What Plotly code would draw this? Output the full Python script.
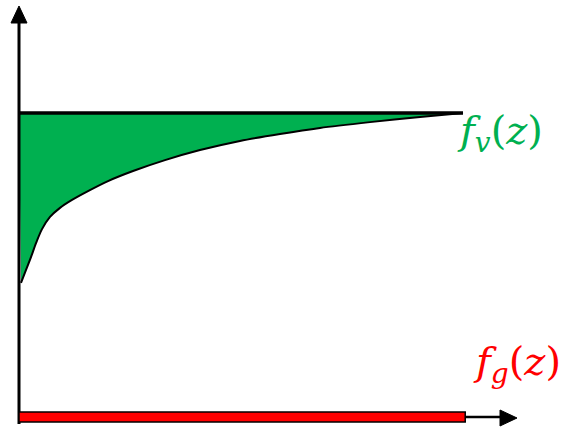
import plotly.graph_objects as go

# Height coordinate z (arbitrary units) and the profile f_v(z)
z_curve = [0.045, 0.158, 0.270, 0.383, 0.518, 0.698, 0.923, 1.194, 1.554,
           2.005, 2.568, 3.288, 4.077, 4.977, 5.878, 6.779, 7.905, 9.032, 10.0]
fv_curve = [0.441, 0.484, 0.526, 0.572, 0.618, 0.658, 0.688, 0.714, 0.743,
            0.776, 0.809, 0.845, 0.878, 0.908, 0.931, 0.951, 0.970, 0.987, 1.0]
fv_top = 1.0          # upper bound of f_v
fg_level = 0.0        # f_g(z) is flat along the axis
z_span = [0.0, 10.0]

labels = ["<i>f<sub>v</sub></i>(<i>z</i>)", "<i>f<sub>g</sub></i>(<i>z</i>)"]
label_colors = ["#00B050", "#FF0000"]

W, H = 569, 429
# pixel placement of the plotting frame
ORIGIN_X, END_X = 19, 463
ORIGIN_Y, TOP_Y = 417, 113
sx = (END_X - ORIGIN_X) / (z_span[1] - z_span[0])
sy = (ORIGIN_Y - TOP_Y) / (fv_top - fg_level)
x_range = [-ORIGIN_X / sx, (W - ORIGIN_X) / sx]
y_range = [-(H - ORIGIN_Y) / sy, ORIGIN_Y / sy]


def paper(x, y):
    return x / W, 1 - y / H


fig = go.Figure()

# green region below the upper bound, closed by the smooth curve
fig.add_trace(go.Scatter(
    x=[z_span[0], z_span[1]], y=[fv_top, fv_top], mode="lines",
    line=dict(color="black", width=3), hoverinfo="skip", showlegend=False))
fig.add_trace(go.Scatter(
    x=z_curve, y=fv_curve, mode="lines", fill="tonexty",
    fillcolor="#00B050", line=dict(color="black", width=2, shape="spline", smoothing=0.8),
    hoverinfo="skip", showlegend=False))
# redraw the bound on top of the fill
fig.add_trace(go.Scatter(
    x=[z_span[0], z_span[1]], y=[fv_top, fv_top], mode="lines",
    line=dict(color="black", width=3), hoverinfo="skip", showlegend=False))

shapes = []
# axis lines
ax0 = paper(ORIGIN_X, 424)
ax1 = paper(ORIGIN_X, 20)
shapes.append(dict(type="line", xref="paper", yref="paper",
                   x0=ax0[0], y0=ax0[1], x1=ax1[0], y1=ax1[1],
                   line=dict(color="black", width=3)))
bx0 = paper(ORIGIN_X, ORIGIN_Y)
bx1 = paper(502, ORIGIN_Y)
shapes.append(dict(type="line", xref="paper", yref="paper",
                   x0=bx0[0], y0=bx0[1], x1=bx1[0], y1=bx1[1],
                   line=dict(color="black", width=2.5)))


def tri(pts):
    p = [paper(*q) for q in pts]
    return "M {} {} L {} {} L {} {} Z".format(p[0][0], p[0][1], p[1][0], p[1][1], p[2][0], p[2][1])


shapes.append(dict(type="path", xref="paper", yref="paper",
                   path=tri([(19, 6), (11, 23), (27, 23)]),
                   fillcolor="black", line=dict(color="black", width=1)))
shapes.append(dict(type="path", xref="paper", yref="paper",
                   path=tri([(517, 418), (500, 410), (500, 426)]),
                   fillcolor="black", line=dict(color="black", width=1)))

# f_g(z) drawn as a flat red band along the axis
shapes.append(dict(type="rect", xref="x", yref="y",
                   x0=z_span[0], x1=z_span[1] + 0.05,
                   ysizemode="pixel", yanchor=fg_level, y0=-5, y1=5,
                   fillcolor="#FF0000", line=dict(color="black", width=1.5)))

fig.update_layout(shapes=shapes)

font_family = "DejaVu Serif, Liberation Serif, serif"
p1 = paper(500, 133)
p2 = paper(517, 364)
for (px_, py_), text, col in zip([p1, p2], labels, label_colors):
    fig.add_annotation(x=px_, y=py_, xref="paper", yref="paper",
                       text=text, showarrow=False,
                       xanchor="center", yanchor="middle",
                       font=dict(family=font_family, size=40, color=col))

fig.update_layout(
    width=W, height=H, autosize=False,
    margin=dict(l=0, r=0, t=0, b=0),
    paper_bgcolor="white", plot_bgcolor="white",
    xaxis=dict(range=x_range, visible=False, fixedrange=True),
    yaxis=dict(range=y_range, visible=False, fixedrange=True),
    showlegend=False,
)

fig.write_html("out.html")
